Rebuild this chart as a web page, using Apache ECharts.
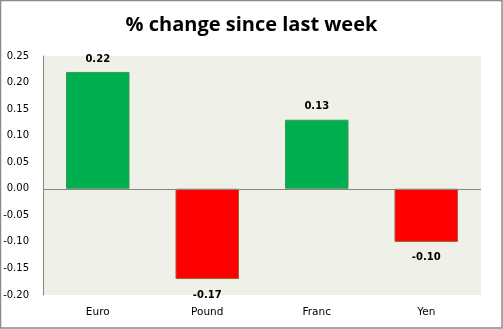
<!DOCTYPE html>
<html>
<head>
<meta charset="utf-8">
<script src="https://cdn.jsdelivr.net/npm/echarts@6/dist/echarts.min.js"></script>
<style>
  html, body { margin: 0; padding: 0; background: #fff; }
  #chart { width: 503px; height: 329px; }
</style>
</head>
<body>
<div id="chart"></div>
<script>
// Weekly currency moves
const currencies = ['Euro', 'Pound', 'Franc', 'Yen'];
const changes = [0.22, -0.17, 0.13, -0.10];

const GREEN = '#00B050';
const RED = '#FF0000';

const chart = echarts.init(document.getElementById('chart'), null, { renderer: 'canvas' });

chart.setOption({
  animation: false,
  backgroundColor: '#ffffff',
  title: {
    text: '% change since last week',
    left: 'center',
    top: 10,
    textStyle: {
      fontFamily: 'Open Sans',
      fontWeight: 'bold',
      fontSize: 20,
      color: '#000'
    }
  },
  graphic: [{
    type: 'rect',
    shape: { x: 0.5, y: 0.5, width: 501.5, height: 327.5 },
    style: { fill: 'none', stroke: '#8a8a8a', lineWidth: 1.5 },
    silent: true
  }],
  grid: {
    left: 43, right: 22, top: 56, bottom: 34,
    show: true,
    backgroundColor: '#EFF0E8',
    borderWidth: 0
  },
  xAxis: {
    type: 'category',
    data: currencies,
    axisLine: { show: false, onZero: false },
    axisTick: { show: false },
    axisLabel: {
      margin: 12,
      fontFamily: 'DejaVu Sans',
      fontSize: 10.5,
      color: '#000'
    }
  },
  yAxis: {
    type: 'value',
    min: -0.2,
    max: 0.25,
    interval: 0.05,
    axisLine: { show: true, lineStyle: { color: '#868686', width: 1 } },
    axisTick: { show: false },
    splitLine: { show: false },
    axisLabel: {
      margin: 14,
      fontFamily: 'DejaVu Sans',
      fontSize: 10,
      color: '#000',
      formatter: v => v.toFixed(2)
    }
  },
  series: [{
    type: 'bar',
    barWidth: '58%',
    data: changes.map(v => ({
      value: v,
      itemStyle: {
        color: v >= 0 ? GREEN : RED,
        borderColor: v >= 0 ? '#3C9A55' : '#A0603A',
        borderWidth: 1
      },
      label: { position: v >= 0 ? 'top' : 'bottom', distance: v >= 0 ? 8 : 11 }
    })),
    label: {
      show: true,
      fontFamily: 'DejaVu Sans',
      fontWeight: 'bold',
      fontSize: 10,
      color: '#000',
      formatter: p => p.value.toFixed(2)
    },
    markLine: {
      silent: true,
      symbol: ['none', 'none'],
      label: { show: false },
      lineStyle: { color: '#868686', type: 'solid', width: 1 },
      data: [{ yAxis: 0 }]
    }
  }]
});
</script>
</body>
</html>
